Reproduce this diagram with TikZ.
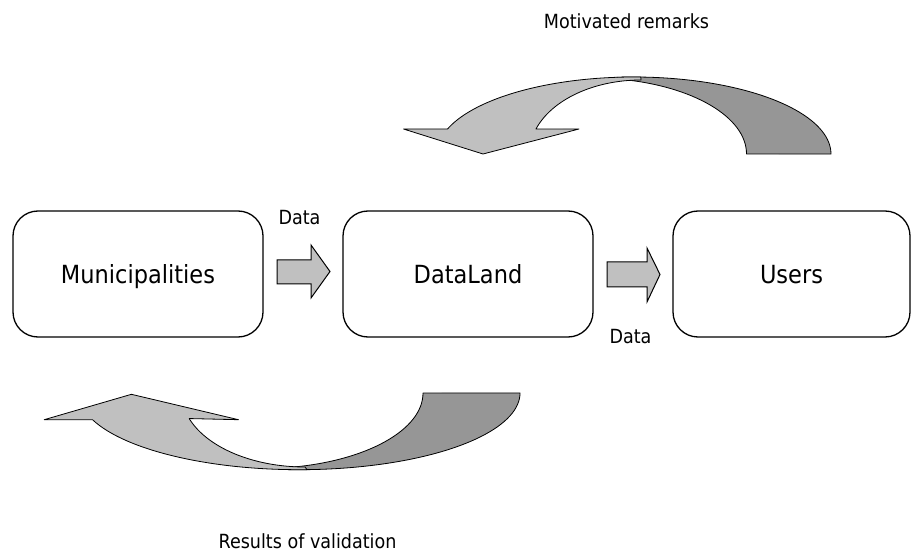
\documentclass[tikz,border=0pt]{standalone}
\usepackage{fontspec}
\setmainfont{DejaVu Sans}[FakeStretch=0.9]
\definecolor{bandlight}{HTML}{C0C0C0}
\definecolor{banddark}{HTML}{969696}
\begin{document}
\begin{tikzpicture}[x=1pt,y=1pt,
  box/.style={draw, line width=1.3pt, rounded corners=25pt, minimum height=126pt,
    inner sep=0pt, text height=18pt, text depth=0pt, font=\fontsize{25}{30}\selectfont},
  lbl/.style={font=\fontsize{19.5}{23}\selectfont, anchor=base, inner sep=0pt},
  lightpart/.style={fill=bandlight, draw=black, line width=0.8pt, line join=round},
  darkpart/.style={fill=banddark, draw=black, line width=0.8pt, line join=round},
  blockarrow/.style={fill=bandlight, draw=black, line width=1pt, line join=miter}]
\useasboundingbox (0,0) rectangle (912,552);

% the three stations
\node[box, minimum width=250pt] (mun) at (138,278) {Municipalities};
\node[box, minimum width=250pt] (dl)  at (468,278) {DataLand};
\node[box, minimum width=237pt] (usr) at (791.5,278) {Users};

% block arrows between the stations
\path[blockarrow] (277,268) -- (311,268) -- (311,254) -- (330,280.5) -- (311,307)
  -- (311,292) -- (277,292) -- cycle;
\path[blockarrow] (607,265) -- (647,265) -- (647,250) -- (660,277.5) -- (647,304)
  -- (647,290) -- (607,290) -- cycle;
\node[lbl] (data1) at (299.5,327) {Data};
\node[lbl] (data2) at (630.5,209) {Data};

% curved feedback arrow over the top: back face first, then front face
\path[darkpart] (616.7,474.7)
  arc[start angle=95, end angle=0, x radius=197.1, y radius=77]
  -- (746.5,398)
  arc[start angle=0, end angle=80, x radius=154.5, y radius=76] -- cycle;
\path[lightpart] (403.5,423) -- (447.5,423)
  arc[start angle=161.05, end angle=88, x radius=197.1, y radius=77]
  -- (641,472)
  arc[start angle=90, end angle=160.26, x radius=111.6, y radius=74]
  -- (579,423) -- (483,398) -- cycle;
\node[lbl] (remarks) at (626.5,523) {Motivated remarks};

% curved feedback arrow underneath
\path[darkpart] (280.2,82.6)
  arc[start angle=265, end angle=360, x radius=220.6, y radius=76.7]
  -- (423,159)
  arc[start angle=0, end angle=-80, x radius=161, y radius=75.5] -- cycle;
\path[lightpart] (44.2,132.3) -- (92.5,132.3)
  arc[start angle=200.37, end angle=272, x radius=220.6, y radius=76.7]
  -- (305,85)
  arc[start angle=270, end angle=200.2, x radius=123.4, y radius=74]
  -- (238.5,132.3) -- (131.4,157.7) -- cycle;
\node[lbl] (results) at (307.5,4) {Results of validation};
\end{tikzpicture}
\end{document}
